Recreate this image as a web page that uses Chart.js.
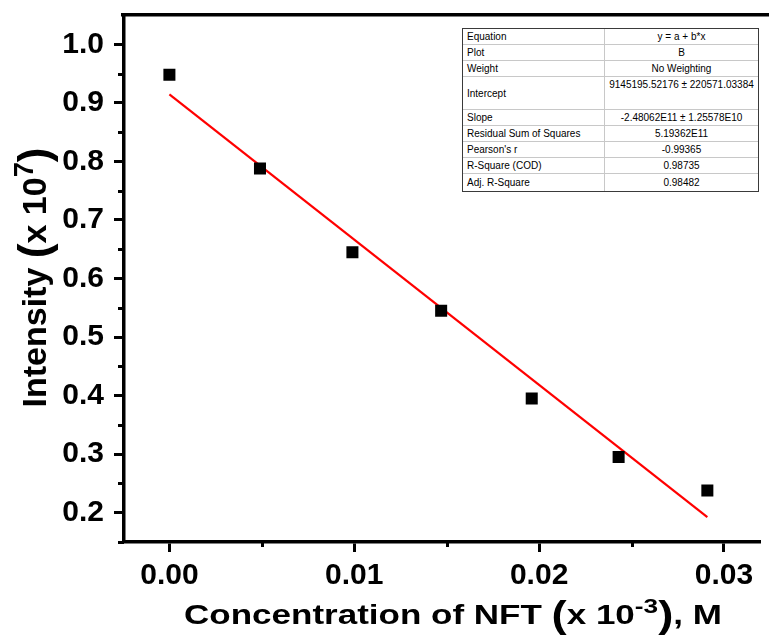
<!DOCTYPE html>
<html>
<head>
<meta charset="utf-8">
<title>Intensity vs NFT concentration</title>
<script src="https://cdn.jsdelivr.net/npm/chart.js@4.4.1/dist/chart.umd.min.js"></script>
<style>
  html, body { margin: 0; padding: 0; background: #fff; overflow: hidden; }
  #wrap { position: relative; width: 769px; height: 643px; }
  #fitBox { position: absolute; left: 462px; top: 28px; border: 1px solid #3a3a3a; background: #fff; }
  #fitBox table { border-collapse: collapse; font: 10px "Liberation Sans", Arial, sans-serif; color: #000; }
  #fitBox td { height: 15px; padding: 0; line-height: 11px; border-bottom: 1px solid #c8c8c8; vertical-align: middle; }
  #fitBox tr:last-child td { border-bottom: none; height: 17px; }
  #fitBox td.k { width: 137px; padding-left: 4px; border-right: 1px solid #c8c8c8; }
  #fitBox td.v { width: 153px; text-align: center; }
  #fitBox tr.tall td { height: 32px; }
  #fitBox tr.tall td.v { vertical-align: top; padding-top: 2px; height: 30px; }
</style>
</head>
<body>
<div id="wrap">
  <canvas id="grafico" width="769" height="643"></canvas>
  <div id="fitBox"><table id="fitTable"></table></div>
</div>
<script>
// concentration of NFT (x 10^-3 M) and measured intensity (x 10^7)
const concX = [0, 0.0049, 0.0099, 0.0147, 0.0196, 0.0243, 0.0291];
const intensity = [0.948, 0.788, 0.645, 0.545, 0.395, 0.295, 0.238];

const xTicks = [0, 0.01, 0.02, 0.03];
const xMinorTicks = [0.005, 0.015, 0.025];
const yTicks = [0.2, 0.3, 0.4, 0.5, 0.6, 0.7, 0.8, 0.9, 1.0];
const yMinorTicks = [0.15, 0.25, 0.35, 0.45, 0.55, 0.65, 0.75, 0.85, 0.95];

// linear fit as reported by Origin (raw units)
const fitIntercept = 9145195.52176;
const fitSlope = -2.48062E11;

const fitRows = [
  ['Equation', 'y = a + b*x'],
  ['Plot', 'B'],
  ['Weight', 'No Weighting'],
  ['Intercept', '9145195.52176 ± 220571.03384'],
  ['Slope', '-2.48062E11 ± 1.25578E10'],
  ['Residual Sum of Squares', '5.19362E11'],
  ["Pearson's r", '-0.99365'],
  ['R-Square (COD)', '0.98735'],
  ['Adj. R-Square', '0.98482']
];

// fit table
const tabela = document.getElementById('fitTable');
fitRows.forEach(function (r) {
  const tr = document.createElement('tr');
  if (r[0] === 'Intercept') tr.className = 'tall';
  const k = document.createElement('td');
  k.className = 'k';
  k.textContent = r[0];
  const v = document.createElement('td');
  v.className = 'v';
  v.textContent = r[1];
  tr.appendChild(k);
  tr.appendChild(v);
  tabela.appendChild(tr);
});

// fitted line over the measured range, converted to the plotted units
function fitY(x) {
  return (fitIntercept + fitSlope * x * 1e-3) / 1e7;
}
const xFitStart = Math.min.apply(null, concX);
const xFitEnd = Math.max.apply(null, concX);

const pontos = concX.map(function (x, i) { return { x: x, y: intensity[i] }; });
const linhaFit = [
  { x: xFitStart, y: fitY(xFitStart) },
  { x: xFitEnd, y: fitY(xFitEnd) }
];

const FONTE = '"Liberation Sans", Arial, sans-serif';

// draws a title made of pieces: [text, size factor, raise (em), baseline drop (em)]
function textoRico(ctx, partes, base) {
  let total = 0;
  partes.forEach(function (p) {
    ctx.font = 'bold ' + (base * p[1]) + 'px ' + FONTE;
    p.w = ctx.measureText(p[0]).width;
    total += p.w;
  });
  let x = -total / 2;
  partes.forEach(function (p) {
    ctx.font = 'bold ' + (base * p[1]) + 'px ' + FONTE;
    ctx.fillText(p[0], x, -(p[2] || 0) * base + (p[3] || 0) * base);
    x += p.w;
  });
}

const eixosExtras = {
  id: 'eixosExtras',
  afterDraw: function (chart) {
    const ctx = chart.ctx;
    const area = chart.chartArea;
    const sx = chart.scales.x;
    const sy = chart.scales.y;
    ctx.save();
    ctx.fillStyle = '#000';

    // top frame line
    ctx.fillRect(area.left - 3, area.top - 2, chart.width - area.left + 3, 3.5);

    // minor ticks
    yMinorTicks.forEach(function (v) {
      const py = Math.round(sy.getPixelForValue(v));
      ctx.fillRect(area.left - 6, py - 1, 6, 3);
    });
    xMinorTicks.forEach(function (v) {
      const px = Math.round(sx.getPixelForValue(v));
      ctx.fillRect(px - 1, area.bottom, 3, 5);
    });

    // axis titles
    ctx.textAlign = 'left';
    ctx.textBaseline = 'alphabetic';
    ctx.save();
    ctx.translate(46, (area.top + area.bottom) / 2 - 1);
    ctx.rotate(-Math.PI / 2);
    textoRico(ctx, [
      ['Intensity ', 1],
      ['(', 1.3, 0, 0.1],
      ['x 10', 1],
      ['7', 0.8, 0.38],
      [')', 1.3, 0, 0.1]
    ], 34);
    ctx.restore();

    ctx.save();
    ctx.translate(453, area.bottom + 82);
    ctx.scale(1.25, 1);
    textoRico(ctx, [
      ['Concentration of NFT ', 1],
      ['(', 1.3, 0, 0.1],
      ['x 10', 1],
      ['-3', 0.75, 0.4],
      [')', 1.3, 0, 0.1],
      [', M', 1]
    ], 28);
    ctx.restore();
    ctx.restore();
  }
};

const tickFont = { family: FONTE, size: 30, weight: 'bold' };

new Chart(document.getElementById('grafico').getContext('2d'), {
  type: 'scatter',
  data: {
    datasets: [
      {
        label: 'B',
        data: pontos,
        pointStyle: 'rect',
        pointRadius: 8.5,
        pointHoverRadius: 8.5,
        backgroundColor: '#000',
        borderColor: '#000',
        borderWidth: 0
      },
      {
        type: 'line',
        label: 'Linear Fit of B',
        data: linhaFit,
        borderColor: '#ff0000',
        borderWidth: 2.2,
        pointRadius: 0,
        fill: false
      }
    ]
  },
  options: {
    responsive: false,
    animation: false,
    devicePixelRatio: 1,
    layout: { padding: { top: 15, right: 0, left: 0, bottom: 0 } },
    plugins: {
      legend: { display: false },
      tooltip: { enabled: false },
      title: { display: false }
    },
    scales: {
      x: {
        type: 'linear',
        min: -0.002456,
        max: 0.031975,
        afterBuildTicks: function (s) { s.ticks = xTicks.map(function (v) { return { value: v }; }); },
        afterFit: function (s) {
          s.height = 101;
          s.paddingLeft = 0;
          s.paddingRight = 0;
        },
        ticks: {
          color: '#000',
          font: tickFont,
          padding: 6,
          maxRotation: 0,
          autoSkip: false,
          callback: function (v) { return Number(v).toFixed(2); }
        },
        grid: { drawOnChartArea: false, drawTicks: true, tickLength: 10, tickWidth: 3, tickColor: '#000' },
        border: { display: true, color: '#000', width: 3.5 }
      },
      y: {
        type: 'linear',
        min: 0.15,
        max: 1.05,
        afterBuildTicks: function (s) { s.ticks = yTicks.map(function (v) { return { value: v }; }); },
        afterFit: function (s) {
          s.width = 124;
          s.paddingTop = 0;
          s.paddingBottom = 0;
        },
        ticks: {
          color: '#000',
          font: tickFont,
          padding: 10,
          autoSkip: false,
          callback: function (v) { return Number(v).toFixed(1); }
        },
        grid: { drawOnChartArea: false, drawTicks: true, tickLength: 10, tickWidth: 3, tickColor: '#000' },
        border: { display: true, color: '#000', width: 3.5 }
      }
    }
  },
  plugins: [eixosExtras]
});
</script>
</body>
</html>
